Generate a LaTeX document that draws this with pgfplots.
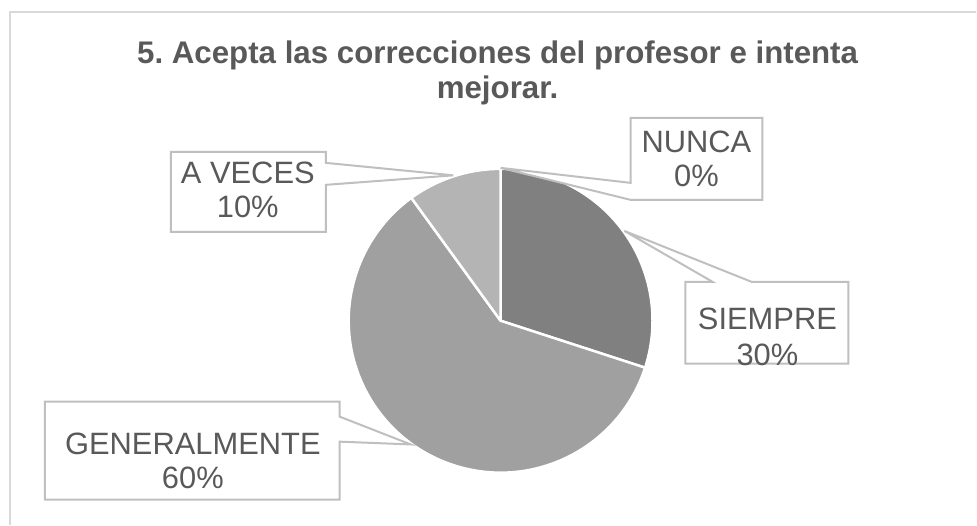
\documentclass[border=0pt]{standalone}
\usepackage{pgfplots}
\usepackage{pgfplotstable}
\pgfplotsset{compat=1.18}
\usetikzlibrary{calc}
\usepackage{fontspec}
\setmainfont{Liberation Sans}
\frenchspacing
\definecolor{txt}{HTML}{595959}
\definecolor{bord}{HTML}{BFBFBF}
\definecolor{frm}{HTML}{D9D9D9}
\definecolor{cA}{HTML}{5A5A5A}
\definecolor{cB}{HTML}{808080}
\definecolor{cC}{HTML}{A0A0A0}
\definecolor{cD}{HTML}{B4B4B4}

\pgfplotstableread[col sep=comma]{
label,value
NUNCA,0
SIEMPRE,30
GENERALMENTE,60
A VECES,10
}\piedata

\begin{document}
\begin{tikzpicture}
\pgfplotstablegetelem{0}{value}\of\piedata \let\vA\pgfplotsretval
\pgfplotstablegetelem{1}{value}\of\piedata \let\vB\pgfplotsretval
\pgfplotstablegetelem{2}{value}\of\piedata \let\vC\pgfplotsretval
\pgfplotstablegetelem{3}{value}\of\piedata \let\vD\pgfplotsretval
\pgfplotstablegetelem{0}{label}\of\piedata \let\lA\pgfplotsretval
\pgfplotstablegetelem{1}{label}\of\piedata \let\lB\pgfplotsretval
\pgfplotstablegetelem{2}{label}\of\piedata \let\lC\pgfplotsretval
\pgfplotstablegetelem{3}{label}\of\piedata \let\lD\pgfplotsretval
\pgfmathsetmacro\aA{90}
\pgfmathsetmacro\aB{\aA-3.6*\vA}
\pgfmathsetmacro\aC{\aB-3.6*\vB}
\pgfmathsetmacro\aD{\aC-3.6*\vC}
\pgfmathsetmacro\aE{\aD-3.6*\vD}
\pgfmathsetmacro\mA{(\aA+\aB)/2}
\pgfmathsetmacro\mB{(\aB+\aC)/2}
\pgfmathsetmacro\mC{(\aC+\aD)/2}
\pgfmathsetmacro\mD{(\aD+\aE)/2}
\begin{axis}[
  x=1bp, y=1bp, xmin=0, xmax=977, ymin=0, ymax=525,
  scale only axis, hide axis, clip=false,
]
\path (axis cs:0,0) rectangle (axis cs:977,525);
% outer chart frame
\draw[frm, line width=1.5bp] (axis cs:10,0) -- (axis cs:10,513) -- (axis cs:977,513);
% title
\node[anchor=base, text=txt, font=\fontsize{31.4}{36}\selectfont\bfseries] at (axis cs:498,461) {5. Acepta las correcciones del profesor e intenta};
\node[anchor=base, text=txt, font=\fontsize{31.4}{36}\selectfont\bfseries] at (axis cs:498,426) {mejorar.};
% slices
\filldraw[fill=cA, draw=white, line width=2.5bp, line join=round] (axis cs:501,204) -- ++(\aA:152bp) arc[start angle=\aA, end angle=\aB, radius=152bp] -- cycle;
\filldraw[fill=cB, draw=white, line width=2.5bp, line join=round] (axis cs:501,204) -- ++(\aB:152bp) arc[start angle=\aB, end angle=\aC, radius=152bp] -- cycle;
\filldraw[fill=cC, draw=white, line width=2.5bp, line join=round] (axis cs:501,204) -- ++(\aC:152bp) arc[start angle=\aC, end angle=\aD, radius=152bp] -- cycle;
\filldraw[fill=cD, draw=white, line width=2.5bp, line join=round] (axis cs:501,204) -- ++(\aD:152bp) arc[start angle=\aD, end angle=\aE, radius=152bp] -- cycle;
\coordinate (tA) at ($(axis cs:501,204)+(\mA:153bp)$);
\coordinate (tB) at ($(axis cs:501,204)+(\mB:153bp)$);
\coordinate (tC) at ($(axis cs:501,204)+(\mC:153bp)$);
\coordinate (tD) at ($(axis cs:501,204)+(\mD:153bp)$);
% callouts
\filldraw[fill=white, draw=bord, line width=2bp] (axis cs:631,407) -- (axis cs:763,407) -- (axis cs:763,325) -- (axis cs:631,325) -- (tA) -- (axis cs:631,342) -- cycle;
\filldraw[fill=white, draw=bord, line width=2bp] (axis cs:686,243) -- (axis cs:713,243) -- (tB) -- (axis cs:752,243) -- (axis cs:849,243) -- (axis cs:849,161) -- (axis cs:686,161) -- cycle;
\filldraw[fill=white, draw=bord, line width=2bp] (axis cs:45,123) -- (axis cs:340,123) -- (axis cs:340,108) -- (tC) -- (axis cs:340,83) -- (axis cs:340,25) -- (axis cs:45,25) -- cycle;
\filldraw[fill=white, draw=bord, line width=2bp] (axis cs:171,373) -- (axis cs:326,373) -- (axis cs:326,362) -- (tD) -- (axis cs:326,340) -- (axis cs:326,293) -- (axis cs:171,293) -- cycle;
% labels
\tikzset{lab/.style={anchor=base, text=txt, font=\fontsize{31}{36}\selectfont}}
\node[lab] at (axis cs:697,372) {\lA};
\node[lab] at (axis cs:697,338) {\vA\%};
\node[lab] at (axis cs:768,195) {\lB};
\node[lab] at (axis cs:768,159) {\vB\%};
\node[lab] at (axis cs:193,70) {\lC};
\node[lab] at (axis cs:193,36) {\vC\%};
\node[lab] at (axis cs:248,341) {\lD};
\node[lab] at (axis cs:248,307) {\vD\%};
\end{axis}
\end{tikzpicture}
\end{document}
